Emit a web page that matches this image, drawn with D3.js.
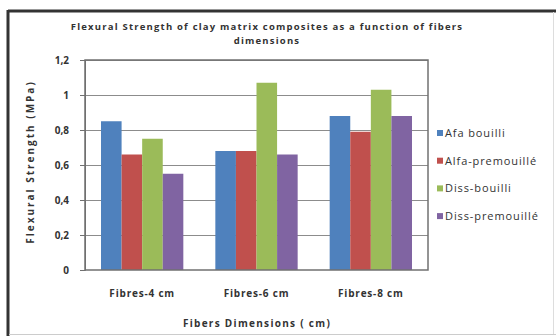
<!DOCTYPE html>
<html><head><meta charset="utf-8">
<script src="https://cdn.jsdelivr.net/npm/d3@7"></script>
<style>body{margin:0;background:#fff}svg{display:block}text{font-family:"Open Sans",sans-serif}</style>
</head><body><svg id="c" width="556" height="336"></svg>
<script>
const categories = ["Fibres-4 cm", "Fibres-6 cm", "Fibres-8 cm"];
const seriesNames = ["Afa bouilli", "Alfa-premouillé", "Diss-bouilli", "Diss-premouillé"];
const afaBouilli = [0.85, 0.68, 0.88];
const alfaPremouille = [0.66, 0.68, 0.79];
const dissBouilli = [0.75, 1.07, 1.03];
const dissPremouille = [0.55, 0.66, 0.88];
const colors = ["#4F81BD", "#C0504D", "#9BBB59", "#8064A2"];
const yTicks = [0, 0.2, 0.4, 0.6, 0.8, 1, 1.2];
const yTickLabels = ["0", "0,2", "0,4", "0,6", "0,8", "1", "1,2"];
const seriesValues = [afaBouilli, alfaPremouille, dissBouilli, dissPremouille];

const svg = d3.select("#c");
const L = 85, R = 428, T = 60, B = 270;

// outer frame
svg.append("line").attr("x1",8).attr("x2",8).attr("y1",10).attr("y2",336).attr("stroke","#333").attr("stroke-width",3);
svg.append("line").attr("x1",8).attr("x2",556).attr("y1",11).attr("y2",11).attr("stroke","#333").attr("stroke-width",3);
svg.append("line").attr("x1",553.5).attr("x2",553.5).attr("y1",12).attr("y2",334).attr("stroke","#ddd").attr("stroke-width",1);
svg.append("line").attr("x1",9).attr("x2",556).attr("y1",334.5).attr("y2",334.5).attr("stroke","#ccc").attr("stroke-width",1);

const y = d3.scaleLinear().domain([0, 1.2]).range([B, T]);
const x0 = d3.scaleBand().domain(categories).range([L, R]).paddingInner(0.28).paddingOuter(0.14);
const x1 = d3.scaleBand().domain(seriesNames).range([0, x0.bandwidth()]);

// gridlines
svg.append("g").selectAll("line").data(yTicks.filter(d=>d>0)).join("line")
  .attr("x1",L).attr("x2",R).attr("y1",d=>Math.round(y(d))+0.5).attr("y2",d=>Math.round(y(d))+0.5)
  .attr("stroke","#8c8c8c").attr("stroke-width",1);

// bars
const g = svg.append("g");
categories.forEach((c, ci) => {
  seriesNames.forEach((s, si) => {
    g.append("rect").attr("x", x0(c) + x1(s)).attr("width", x1.bandwidth())
      .attr("y", y(seriesValues[si][ci])).attr("height", B - y(seriesValues[si][ci]))
      .attr("fill", colors[si]);
  });
});

// plot border
svg.append("rect").attr("x",L).attr("y",T).attr("width",R-L).attr("height",B-T)
  .attr("fill","none").attr("stroke","#707070").attr("stroke-width",1.5);

// y axis
const yAxis = d3.axisLeft(y).tickValues(yTicks).tickFormat((d,i)=>yTickLabels[i]).tickSize(5).tickPadding(11);
const ya = svg.append("g").attr("transform",`translate(${L},0)`).call(yAxis);
ya.select(".domain").attr("stroke","#707070");
ya.selectAll(".tick line").attr("stroke","#707070");
ya.selectAll("text").attr("font-size",10).attr("font-weight","bold").attr("fill","#333").attr("font-family","Open Sans");

// x axis
const xAxis = d3.axisBottom(x0).tickSize(0).tickPadding(20);
const xa = svg.append("g").attr("transform",`translate(0,${B})`).call(xAxis);
xa.select(".domain").remove();
xa.selectAll("text").attr("font-size",10).attr("letter-spacing",0.8).attr("font-weight","bold").attr("fill","#333").attr("font-family","Open Sans");

// titles
svg.append("text").attr("x",267).attr("y",30).attr("text-anchor","middle").attr("font-size",9.5)
  .attr("letter-spacing",1.2).attr("font-weight","bold").attr("fill","#333").text("Flexural  Strength of clay matrix composites as a function of fibers");
svg.append("text").attr("x",267).attr("y",44).attr("text-anchor","middle").attr("font-size",9.5)
  .attr("letter-spacing",1.2).attr("font-weight","bold").attr("fill","#333").text("dimensions");
svg.append("text").attr("x",257).attr("y",327).attr("text-anchor","middle").attr("font-size",10)
  .attr("letter-spacing",1.3).attr("font-weight","bold").attr("fill","#333").text("Fibers Dimensions  ( cm)");
svg.append("text").attr("transform","translate(34,162) rotate(-90)").attr("text-anchor","middle").attr("font-size",10)
  .attr("letter-spacing",2).attr("font-weight","bold").attr("fill","#333").text("Flexural Strength (MPa)");

// legend
const lg = svg.append("g");
seriesNames.forEach((s, i) => {
  const ly = 133 + i * 27.7;
  lg.append("rect").attr("x",437).attr("y",ly-3).attr("width",6).attr("height",6).attr("fill",colors[i]);
  lg.append("text").attr("x",445).attr("y",ly+4).attr("font-size",11).attr("letter-spacing",0.9).attr("fill","#333").text(s);
});
</script></body></html>
